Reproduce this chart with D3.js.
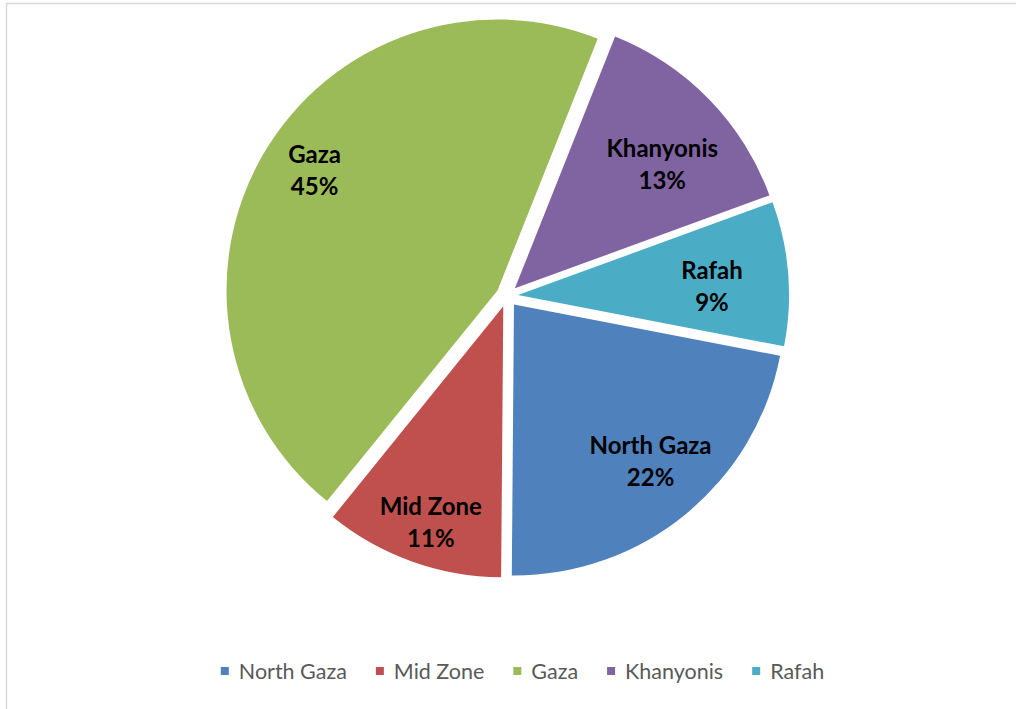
<!DOCTYPE html>
<html>
<head>
<meta charset="utf-8">
<script src="https://cdn.jsdelivr.net/npm/d3@7"></script>
<style>
  html, body { margin: 0; padding: 0; background: #fff; }
  svg { display: block; }
</style>
</head>
<body>
<div class="canvas_area"></div>
<script>
// DATA
const regions = ["North Gaza", "Mid Zone", "Gaza", "Khanyonis", "Rafah"];
const shares = [22.1, 10.7, 45.2, 13.4, 8.6];
const colors = ["#4F81BD", "#C0504D", "#9BBB59", "#8064A2", "#4BACC6"];

// SIZES
const svgwidth = 1016, svgheight = 709;
const cx = 507, cy = 296;
const radius = 271;
const explode = 11;
const firstSliceAngle = 100.9; // degrees, clockwise from 12 o'clock
// label placement from the slice tip: distance and angle nudge (degrees)
const labelPlace = {
    "North Gaza": {r: 212, da: -0.8},
    "Mid Zone": {r: 233, da: -1.6},
    "Gaza": {r: 216, da: 1.8},
    "Khanyonis": {r: 189, da: 5.4},
    "Rafah": {r: 194, da: 3.7}
};

const svg = d3.select(".canvas_area").append("svg")
    .attr("width", svgwidth)
    .attr("height", svgheight);

// chart border
svg.append("rect")
    .attr("x", 6.5).attr("y", 3.5)
    .attr("width", svgwidth + 20).attr("height", svgheight + 20)
    .style("fill", "none")
    .style("stroke", "#d9d9d9")
    .style("stroke-width", 1.5);

const data = regions.map((d, i) => ({name: d, value: shares[i], color: colors[i]}));

const start = firstSliceAngle * Math.PI / 180;
const pie = d3.pie().sort(null).value(d => d.value)
    .startAngle(start).endAngle(start + 2 * Math.PI);
const arcs = pie(data);
const total = d3.sum(shares);

const arc = d3.arc().innerRadius(0).outerRadius(radius);

const graph = svg.append("g").attr("transform", `translate(${cx}, ${cy})`);

const slice = graph.selectAll(".slice").data(arcs).enter()
    .append("g").classed("slice", true)
    .attr("transform", d => {
        const m = (d.startAngle + d.endAngle) / 2;
        return `translate(${Math.sin(m) * explode}, ${-Math.cos(m) * explode})`;
    });

slice.append("path")
    .attr("d", arc)
    .style("fill", d => d.data.color);

// LABELS
const label = slice.append("text")
    .attr("transform", d => {
        const p = labelPlace[d.data.name];
        const m = (d.startAngle + d.endAngle) / 2 + p.da * Math.PI / 180;
        return `translate(${Math.sin(m) * p.r}, ${-Math.cos(m) * p.r})`;
    })
    .attr("text-anchor", "middle")
    .style("font-family", "Lato, 'Open Sans', sans-serif")
    .style("font-weight", "bold")
    .style("font-size", "24px")
    .style("fill", "#000");

label.append("tspan").attr("x", 0).attr("y", -13).text(d => d.data.name);
label.append("tspan").attr("x", 0).attr("y", 19)
    .text(d => Math.round(d.data.value / total * 100) + "%");

// LEGEND
const legend = svg.append("g").attr("transform", `translate(0, 671)`);
const items = legend.selectAll(".legend-item").data(data).enter()
    .append("g").classed("legend-item", true);

items.append("rect")
    .attr("x", 0).attr("y", -4)
    .attr("width", 8).attr("height", 8)
    .style("fill", d => d.color);

items.append("text")
    .attr("x", 18).attr("y", 0)
    .attr("dy", "0.36em")
    .style("font-family", "Lato, 'Open Sans', sans-serif")
    .style("font-size", "21.5px")
    .style("fill", "#595959")
    .text(d => d.name);

const gap = 29;
let widths = [];
items.each(function() { widths.push(this.getBBox().width); });
const legendTotal = d3.sum(widths) + gap * (widths.length - 1);
let xpos = 522.5 - legendTotal / 2;
items.attr("transform", (d, i) => {
    const t = `translate(${xpos}, 0)`;
    xpos += widths[i] + gap;
    return t;
});
</script>
</body>
</html>
